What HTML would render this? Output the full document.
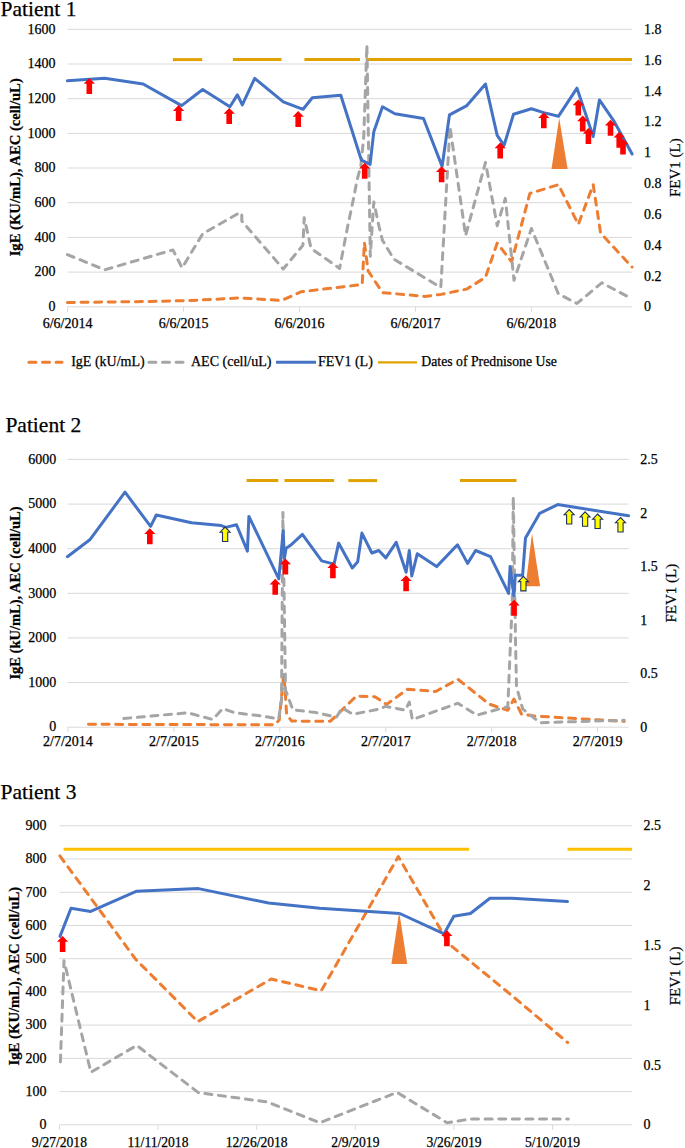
<!DOCTYPE html>
<html><head><meta charset="utf-8"><title>Patients</title>
<style>
html,body{margin:0;padding:0;background:#fff;}
body{width:685px;height:1148px;overflow:hidden;}
svg{display:block;font-family:'Liberation Serif', serif;}
svg text{fill:#000;stroke:#000;stroke-width:0.25px;}
</style></head>
<body>
<svg width="685" height="1148" viewBox="0 0 685 1148">
<rect width="685" height="1148" fill="#fff"/>
<line x1="67.5" y1="306.8" x2="632.0" y2="306.8" stroke="#D9D9D9" stroke-width="1"/>
<line x1="67.5" y1="272.1" x2="632.0" y2="272.1" stroke="#D9D9D9" stroke-width="1"/>
<line x1="67.5" y1="237.4" x2="632.0" y2="237.4" stroke="#D9D9D9" stroke-width="1"/>
<line x1="67.5" y1="202.7" x2="632.0" y2="202.7" stroke="#D9D9D9" stroke-width="1"/>
<line x1="67.5" y1="168.0" x2="632.0" y2="168.0" stroke="#D9D9D9" stroke-width="1"/>
<line x1="67.5" y1="133.4" x2="632.0" y2="133.4" stroke="#D9D9D9" stroke-width="1"/>
<line x1="67.5" y1="98.7" x2="632.0" y2="98.7" stroke="#D9D9D9" stroke-width="1"/>
<line x1="67.5" y1="64.0" x2="632.0" y2="64.0" stroke="#D9D9D9" stroke-width="1"/>
<line x1="67.5" y1="29.3" x2="632.0" y2="29.3" stroke="#D9D9D9" stroke-width="1"/>
<line x1="67.6" y1="306.8" x2="67.6" y2="311.8" stroke="#D9D9D9" stroke-width="1"/>
<line x1="183.6" y1="306.8" x2="183.6" y2="311.8" stroke="#D9D9D9" stroke-width="1"/>
<line x1="299.5" y1="306.8" x2="299.5" y2="311.8" stroke="#D9D9D9" stroke-width="1"/>
<line x1="415.5" y1="306.8" x2="415.5" y2="311.8" stroke="#D9D9D9" stroke-width="1"/>
<line x1="531.4" y1="306.8" x2="531.4" y2="311.8" stroke="#D9D9D9" stroke-width="1"/>
<text x="0.6" y="16.4" font-size="21.5" text-anchor="start" font-weight="normal" stroke-width="0.1">Patient 1</text>
<text x="55.5" y="311.0" font-size="14" text-anchor="end" font-weight="normal" >0</text>
<text x="55.5" y="276.3" font-size="14" text-anchor="end" font-weight="normal" >200</text>
<text x="55.5" y="241.6" font-size="14" text-anchor="end" font-weight="normal" >400</text>
<text x="55.5" y="206.9" font-size="14" text-anchor="end" font-weight="normal" >600</text>
<text x="55.5" y="172.2" font-size="14" text-anchor="end" font-weight="normal" >800</text>
<text x="55.5" y="137.6" font-size="14" text-anchor="end" font-weight="normal" >1000</text>
<text x="55.5" y="102.9" font-size="14" text-anchor="end" font-weight="normal" >1200</text>
<text x="55.5" y="68.2" font-size="14" text-anchor="end" font-weight="normal" >1400</text>
<text x="55.5" y="33.5" font-size="14" text-anchor="end" font-weight="normal" >1600</text>
<text x="644.0" y="311.4" font-size="14" text-anchor="start" font-weight="normal" >0</text>
<text x="644.0" y="280.6" font-size="14" text-anchor="start" font-weight="normal" >0.2</text>
<text x="644.0" y="249.7" font-size="14" text-anchor="start" font-weight="normal" >0.4</text>
<text x="644.0" y="218.9" font-size="14" text-anchor="start" font-weight="normal" >0.6</text>
<text x="644.0" y="188.1" font-size="14" text-anchor="start" font-weight="normal" >0.8</text>
<text x="644.0" y="157.2" font-size="14" text-anchor="start" font-weight="normal" >1</text>
<text x="644.0" y="126.4" font-size="14" text-anchor="start" font-weight="normal" >1.2</text>
<text x="644.0" y="95.6" font-size="14" text-anchor="start" font-weight="normal" >1.4</text>
<text x="644.0" y="64.7" font-size="14" text-anchor="start" font-weight="normal" >1.6</text>
<text x="644.0" y="33.9" font-size="14" text-anchor="start" font-weight="normal" >1.8</text>
<text x="67.6" y="327.8" font-size="14" text-anchor="middle" font-weight="normal" >6/6/2014</text>
<text x="183.6" y="327.8" font-size="14" text-anchor="middle" font-weight="normal" >6/6/2015</text>
<text x="299.5" y="327.8" font-size="14" text-anchor="middle" font-weight="normal" >6/6/2016</text>
<text x="415.5" y="327.8" font-size="14" text-anchor="middle" font-weight="normal" >6/6/2017</text>
<text x="531.4" y="327.8" font-size="14" text-anchor="middle" font-weight="normal" >6/6/2018</text>
<text x="0" y="0" font-size="14.65" text-anchor="middle" font-weight="bold" stroke-width="0" transform="translate(19.6,167.3) rotate(-90)">IgE (KU/mL), AEC (cell/uL)</text>
<text x="0" y="0" font-size="15" text-anchor="middle" font-weight="normal" transform="translate(680.0,167.7) rotate(-90)">FEV1 (L)</text>
<line x1="172.9" y1="59.6" x2="202.2" y2="59.6" stroke="#E0A200" stroke-width="3"/>
<line x1="232.9" y1="59.6" x2="281.5" y2="59.6" stroke="#E0A200" stroke-width="3"/>
<line x1="304.4" y1="59.6" x2="360.0" y2="59.6" stroke="#E0A200" stroke-width="3"/>
<line x1="365.8" y1="59.6" x2="632.0" y2="59.6" stroke="#E0A200" stroke-width="3"/>
<polyline points="67.4,302.5 150.0,301.5 191.7,300.5 239.9,297.9 281.7,300.5 300.9,291.8 362.2,284.5 364.4,242.6 368.1,270.9 382.6,292.6 424.7,296.4 440.8,294.4 466.9,289.0 485.5,277.3 497.2,243.1 511.6,261.7 529.9,193.4 558.4,184.7 578.3,224.4 593.2,184.7 600.6,233.1 632.1,267.1" fill="none" stroke="#ED7D31" stroke-width="3" stroke-linejoin="round" stroke-linecap="round" stroke-dasharray="7 6.6"/>
<polyline points="67.4,254.6 104.7,269.8 172.9,249.9 182.1,267.8 202.7,233.8 238.9,213.1 241.8,213.1 241.8,221.0 283.2,269.0 302.9,245.3 304.2,217.7 308.8,238.1 310.8,247.3 314.1,250.6 339.6,268.4 347.5,227.3 353.2,200.1 357.1,180.0 360.9,165.3 363.7,137.5 365.2,95.5 366.9,45.0 368.6,150.0 369.4,201.9 370.3,256.2 372.0,229.0 373.8,201.9 379.0,226.4 382.5,240.4 390.0,252.7 394.0,259.2 440.8,287.5 450.0,126.7 465.6,235.6 485.5,162.4 497.2,225.7 505.3,198.4 514.0,280.3 531.4,228.5 558.4,293.9 577.0,303.4 601.8,282.8 632.1,298.9" fill="none" stroke="#A5A5A5" stroke-width="3" stroke-linejoin="round" stroke-linecap="round" stroke-dasharray="7 6.6"/>
<polyline points="67.4,80.8 104.7,78.3 143.1,84.0 181.6,105.6 202.7,89.5 229.9,106.8 237.4,94.9 242.3,104.9 254.7,78.3 283.3,101.9 303.1,109.3 312.3,97.7 340.8,95.2 361.4,160.2 370.1,164.4 373.8,131.7 382.5,106.8 394.9,113.8 423.5,118.5 442.1,166.4 449.5,114.8 466.9,105.6 485.5,84.0 497.2,135.4 504.1,145.3 513.5,114.3 531.4,108.8 543.8,112.6 558.4,116.3 577.0,88.2 593.2,136.6 599.4,99.9 614.3,121.7 632.1,154.0" fill="none" stroke="#4472C4" stroke-width="3" stroke-linejoin="round" stroke-linecap="round"/>
<polygon points="559.2,118.0 567.6,168.9 551.5,168.9" fill="#ED7D31"/>
<polygon points="89.3,77.9 94.9,83.7 92.1,83.7 92.1,93.9 86.5,93.9 86.5,83.7 83.7,83.7" fill="#FF0000"/>
<polygon points="178.6,105.1 184.2,110.9 181.4,110.9 181.4,121.1 175.8,121.1 175.8,110.9 173.0,110.9" fill="#FF0000"/>
<polygon points="229.2,108.0 234.8,113.8 232.0,113.8 232.0,124.0 226.4,124.0 226.4,113.8 223.6,113.8" fill="#FF0000"/>
<polygon points="298.2,111.0 303.8,116.8 301.0,116.8 301.0,127.0 295.4,127.0 295.4,116.8 292.6,116.8" fill="#FF0000"/>
<polygon points="364.7,162.7 370.3,168.5 367.5,168.5 367.5,178.7 361.9,178.7 361.9,168.5 359.1,168.5" fill="#FF0000"/>
<polygon points="441.6,166.3 447.2,172.1 444.4,172.1 444.4,182.3 438.8,182.3 438.8,172.1 436.0,172.1" fill="#FF0000"/>
<polygon points="500.2,142.5 505.8,148.3 503.0,148.3 503.0,158.5 497.4,158.5 497.4,148.3 494.6,148.3" fill="#FF0000"/>
<polygon points="543.8,112.3 549.4,118.1 546.6,118.1 546.6,128.3 541.0,128.3 541.0,118.1 538.2,118.1" fill="#FF0000"/>
<polygon points="578.3,99.4 583.9,105.2 581.1,105.2 581.1,115.4 575.5,115.4 575.5,105.2 572.7,105.2" fill="#FF0000"/>
<polygon points="582.7,115.5 588.3,121.3 585.5,121.3 585.5,131.5 579.9,131.5 579.9,121.3 577.1,121.3" fill="#FF0000"/>
<polygon points="588.4,128.0 594.0,133.8 591.2,133.8 591.2,144.0 585.6,144.0 585.6,133.8 582.8,133.8" fill="#FF0000"/>
<polygon points="610.5,119.8 616.1,125.6 613.3,125.6 613.3,135.8 607.7,135.8 607.7,125.6 604.9,125.6" fill="#FF0000"/>
<polygon points="619.2,131.7 624.8,137.5 622.0,137.5 622.0,147.7 616.4,147.7 616.4,137.5 613.6,137.5" fill="#FF0000"/>
<polygon points="623.0,138.6 628.6,144.4 625.8,144.4 625.8,154.6 620.2,154.6 620.2,144.4 617.4,144.4" fill="#FF0000"/>
<line x1="28.9" y1="362.3" x2="62" y2="362.3" stroke="#ED7D31" stroke-width="3" stroke-dasharray="7 6.6" stroke-linecap="round"/>
<text x="71.2" y="366.2" font-size="14" text-anchor="start" font-weight="normal" >IgE (kU/mL)</text>
<line x1="148.9" y1="362.3" x2="183" y2="362.3" stroke="#A5A5A5" stroke-width="3" stroke-dasharray="7 6.6" stroke-linecap="round"/>
<text x="191.0" y="366.2" font-size="14" text-anchor="start" font-weight="normal" >AEC (cell/uL)</text>
<line x1="276" y1="362.3" x2="316" y2="362.3" stroke="#4472C4" stroke-width="3"/>
<text x="318.0" y="366.2" font-size="14" text-anchor="start" font-weight="normal" >FEV1 (L)</text>
<line x1="378" y1="362.3" x2="417" y2="362.3" stroke="#E0A200" stroke-width="2.2"/>
<text x="421.3" y="366.2" font-size="13.75" text-anchor="start" font-weight="normal" >Dates of Prednisone Use</text>
<line x1="67.5" y1="727.2" x2="628.6" y2="727.2" stroke="#D9D9D9" stroke-width="1"/>
<line x1="67.5" y1="682.6" x2="628.6" y2="682.6" stroke="#D9D9D9" stroke-width="1"/>
<line x1="67.5" y1="637.9" x2="628.6" y2="637.9" stroke="#D9D9D9" stroke-width="1"/>
<line x1="67.5" y1="593.3" x2="628.6" y2="593.3" stroke="#D9D9D9" stroke-width="1"/>
<line x1="67.5" y1="548.7" x2="628.6" y2="548.7" stroke="#D9D9D9" stroke-width="1"/>
<line x1="67.5" y1="504.1" x2="628.6" y2="504.1" stroke="#D9D9D9" stroke-width="1"/>
<line x1="67.5" y1="459.4" x2="628.6" y2="459.4" stroke="#D9D9D9" stroke-width="1"/>
<line x1="67.9" y1="727.2" x2="67.9" y2="732.2" stroke="#D9D9D9" stroke-width="1"/>
<line x1="173.9" y1="727.2" x2="173.9" y2="732.2" stroke="#D9D9D9" stroke-width="1"/>
<line x1="279.8" y1="727.2" x2="279.8" y2="732.2" stroke="#D9D9D9" stroke-width="1"/>
<line x1="385.8" y1="727.2" x2="385.8" y2="732.2" stroke="#D9D9D9" stroke-width="1"/>
<line x1="491.7" y1="727.2" x2="491.7" y2="732.2" stroke="#D9D9D9" stroke-width="1"/>
<line x1="597.6" y1="727.2" x2="597.6" y2="732.2" stroke="#D9D9D9" stroke-width="1"/>
<text x="5.4" y="432.1" font-size="21.5" text-anchor="start" font-weight="normal" stroke-width="0.1">Patient 2</text>
<text x="56.2" y="731.4" font-size="14" text-anchor="end" font-weight="normal" >0</text>
<text x="56.2" y="686.8" font-size="14" text-anchor="end" font-weight="normal" >1000</text>
<text x="56.2" y="642.1" font-size="14" text-anchor="end" font-weight="normal" >2000</text>
<text x="56.2" y="597.5" font-size="14" text-anchor="end" font-weight="normal" >3000</text>
<text x="56.2" y="552.9" font-size="14" text-anchor="end" font-weight="normal" >4000</text>
<text x="56.2" y="508.3" font-size="14" text-anchor="end" font-weight="normal" >5000</text>
<text x="56.2" y="463.6" font-size="14" text-anchor="end" font-weight="normal" >6000</text>
<text x="640.3" y="731.7" font-size="14" text-anchor="start" font-weight="normal" >0</text>
<text x="640.3" y="678.1" font-size="14" text-anchor="start" font-weight="normal" >0.5</text>
<text x="640.3" y="624.6" font-size="14" text-anchor="start" font-weight="normal" >1</text>
<text x="640.3" y="571.0" font-size="14" text-anchor="start" font-weight="normal" >1.5</text>
<text x="640.3" y="517.5" font-size="14" text-anchor="start" font-weight="normal" >2</text>
<text x="640.3" y="463.9" font-size="14" text-anchor="start" font-weight="normal" >2.5</text>
<text x="67.9" y="746.0" font-size="14" text-anchor="middle" font-weight="normal" >2/7/2014</text>
<text x="173.9" y="746.0" font-size="14" text-anchor="middle" font-weight="normal" >2/7/2015</text>
<text x="279.8" y="746.0" font-size="14" text-anchor="middle" font-weight="normal" >2/7/2016</text>
<text x="385.8" y="746.0" font-size="14" text-anchor="middle" font-weight="normal" >2/7/2017</text>
<text x="491.7" y="746.0" font-size="14" text-anchor="middle" font-weight="normal" >2/7/2018</text>
<text x="597.6" y="746.0" font-size="14" text-anchor="middle" font-weight="normal" >2/7/2019</text>
<text x="0" y="0" font-size="14.5" text-anchor="middle" font-weight="bold" stroke-width="0" transform="translate(20.2,593.0) rotate(-90)">IgE (kU/mL), AEC (cell/uL)</text>
<text x="0" y="0" font-size="15" text-anchor="middle" font-weight="normal" transform="translate(675.8,593.2) rotate(-90)">FEV1 (L)</text>
<line x1="246.6" y1="480.6" x2="278.3" y2="480.6" stroke="#E0A200" stroke-width="3"/>
<line x1="284.5" y1="480.6" x2="334.1" y2="480.6" stroke="#E0A200" stroke-width="3"/>
<line x1="348.3" y1="480.6" x2="377.1" y2="480.6" stroke="#E0A200" stroke-width="3"/>
<line x1="460.0" y1="480.6" x2="516.5" y2="480.6" stroke="#E0A200" stroke-width="3"/>
<polyline points="88.5,724.3 274.7,724.8 279.2,720.0 283.8,673.6 285.5,696.2 286.6,714.3 291.7,721.1 330.5,721.2 356.2,696.2 374.9,696.7 386.6,704.4 407.6,689.2 435.7,691.5 457.9,679.2 489.2,704.1 507.8,710.3 514.0,699.1 521.5,714.0 533.9,716.0 624.2,721.4" fill="none" stroke="#ED7D31" stroke-width="3" stroke-linejoin="round" stroke-linecap="round" stroke-dasharray="7 6.6"/>
<polyline points="123.8,718.5 187.6,712.8 212.8,719.5 222.9,708.5 234.6,712.8 262.3,716.0 278.7,718.9 281.5,700.0 282.9,512.4 285.5,690.0 292.8,709.8 316.0,712.6 336.4,717.2 342.2,707.9 352.7,714.2 379.6,709.1 385.4,706.3 405.3,710.2 409.3,702.1 412.3,719.6 457.9,703.2 476.8,715.2 507.8,706.6 512.3,600.0 513.3,497.0 515.5,640.0 516.5,686.7 522.7,709.0 540.1,722.7 624.2,720.2" fill="none" stroke="#A5A5A5" stroke-width="3" stroke-linejoin="round" stroke-linecap="round" stroke-dasharray="7 6.6"/>
<polyline points="67.4,556.7 89.8,539.8 125.0,492.2 150.6,526.4 156.3,515.0 191.5,522.7 221.2,525.5 225.5,527.4 236.5,524.8 247.4,551.1 248.9,516.4 278.8,578.8 283.2,530.7 284.4,558.4 286.1,548.2 290.5,545.3 302.4,534.4 321.7,560.9 334.1,564.1 338.6,543.1 352.3,567.9 357.7,561.7 361.9,533.1 371.9,553.0 378.8,550.5 385.8,557.9 396.2,542.3 406.1,572.3 409.3,550.5 411.8,576.0 417.3,553.7 436.6,566.6 457.5,544.8 467.6,563.4 475.6,550.5 490.5,556.6 508.6,593.4 510.1,566.5 513.9,595.7 515.3,575.3 522.6,575.3 525.5,537.9 539.6,513.4 557.7,504.6 628.6,515.8" fill="none" stroke="#4472C4" stroke-width="3" stroke-linejoin="round" stroke-linecap="round"/>
<polygon points="532.0,533.5 540.1,586.2 525.6,586.2" fill="#ED7D31"/>
<polygon points="149.8,528.2 155.4,534.0 152.6,534.0 152.6,544.2 147.0,544.2 147.0,534.0 144.2,534.0" fill="#FF0000"/>
<polygon points="275.2,578.8 280.8,584.6 278.0,584.6 278.0,594.8 272.4,594.8 272.4,584.6 269.6,584.6" fill="#FF0000"/>
<polygon points="285.4,558.4 291.0,564.2 288.2,564.2 288.2,574.4 282.6,574.4 282.6,564.2 279.8,564.2" fill="#FF0000"/>
<polygon points="332.9,562.2 338.5,568.0 335.7,568.0 335.7,578.2 330.1,578.2 330.1,568.0 327.3,568.0" fill="#FF0000"/>
<polygon points="406.1,575.3 411.7,581.1 408.9,581.1 408.9,591.3 403.3,591.3 403.3,581.1 400.5,581.1" fill="#FF0000"/>
<polygon points="514.1,599.8 519.7,605.6 516.9,605.6 516.9,615.8 511.3,615.8 511.3,605.6 508.5,605.6" fill="#FF0000"/>
<polygon points="225.1,527.0 230.1,532.2 227.7,532.2 227.7,541.5 222.5,541.5 222.5,532.2 220.1,532.2" fill="#FFFF00" stroke="#1F2F60" stroke-width="1.1" stroke-linejoin="miter"/>
<polygon points="523.4,576.4 528.4,581.6 526.0,581.6 526.0,590.9 520.8,590.9 520.8,581.6 518.4,581.6" fill="#FFFF00" stroke="#1F2F60" stroke-width="1.1" stroke-linejoin="miter"/>
<polygon points="569.2,509.5 574.2,514.7 571.8,514.7 571.8,524.0 566.6,524.0 566.6,514.7 564.2,514.7" fill="#FFFF00" stroke="#1F2F60" stroke-width="1.1" stroke-linejoin="miter"/>
<polygon points="585.1,511.8 590.1,517.0 587.7,517.0 587.7,526.3 582.5,526.3 582.5,517.0 580.1,517.0" fill="#FFFF00" stroke="#1F2F60" stroke-width="1.1" stroke-linejoin="miter"/>
<polygon points="597.6,514.0 602.6,519.2 600.2,519.2 600.2,528.5 595.0,528.5 595.0,519.2 592.6,519.2" fill="#FFFF00" stroke="#1F2F60" stroke-width="1.1" stroke-linejoin="miter"/>
<polygon points="620.5,517.5 625.5,522.7 623.1,522.7 623.1,532.0 617.9,532.0 617.9,522.7 615.5,522.7" fill="#FFFF00" stroke="#1F2F60" stroke-width="1.1" stroke-linejoin="miter"/>
<line x1="59.5" y1="1124.8" x2="632.1" y2="1124.8" stroke="#D9D9D9" stroke-width="1"/>
<line x1="59.5" y1="1091.6" x2="632.1" y2="1091.6" stroke="#D9D9D9" stroke-width="1"/>
<line x1="59.5" y1="1058.4" x2="632.1" y2="1058.4" stroke="#D9D9D9" stroke-width="1"/>
<line x1="59.5" y1="1025.1" x2="632.1" y2="1025.1" stroke="#D9D9D9" stroke-width="1"/>
<line x1="59.5" y1="991.9" x2="632.1" y2="991.9" stroke="#D9D9D9" stroke-width="1"/>
<line x1="59.5" y1="958.7" x2="632.1" y2="958.7" stroke="#D9D9D9" stroke-width="1"/>
<line x1="59.5" y1="925.5" x2="632.1" y2="925.5" stroke="#D9D9D9" stroke-width="1"/>
<line x1="59.5" y1="892.3" x2="632.1" y2="892.3" stroke="#D9D9D9" stroke-width="1"/>
<line x1="59.5" y1="859.0" x2="632.1" y2="859.0" stroke="#D9D9D9" stroke-width="1"/>
<line x1="59.5" y1="825.8" x2="632.1" y2="825.8" stroke="#D9D9D9" stroke-width="1"/>
<line x1="59.4" y1="1124.8" x2="59.4" y2="1129.8" stroke="#D9D9D9" stroke-width="1"/>
<line x1="158.0" y1="1124.8" x2="158.0" y2="1129.8" stroke="#D9D9D9" stroke-width="1"/>
<line x1="256.7" y1="1124.8" x2="256.7" y2="1129.8" stroke="#D9D9D9" stroke-width="1"/>
<line x1="355.3" y1="1124.8" x2="355.3" y2="1129.8" stroke="#D9D9D9" stroke-width="1"/>
<line x1="454.0" y1="1124.8" x2="454.0" y2="1129.8" stroke="#D9D9D9" stroke-width="1"/>
<line x1="552.6" y1="1124.8" x2="552.6" y2="1129.8" stroke="#D9D9D9" stroke-width="1"/>
<text x="0.6" y="799.3" font-size="21.5" text-anchor="start" font-weight="normal" stroke-width="0.1">Patient 3</text>
<text x="46.4" y="1129.0" font-size="14" text-anchor="end" font-weight="normal" >0</text>
<text x="46.4" y="1095.8" font-size="14" text-anchor="end" font-weight="normal" >100</text>
<text x="46.4" y="1062.6" font-size="14" text-anchor="end" font-weight="normal" >200</text>
<text x="46.4" y="1029.3" font-size="14" text-anchor="end" font-weight="normal" >300</text>
<text x="46.4" y="996.1" font-size="14" text-anchor="end" font-weight="normal" >400</text>
<text x="46.4" y="962.9" font-size="14" text-anchor="end" font-weight="normal" >500</text>
<text x="46.4" y="929.7" font-size="14" text-anchor="end" font-weight="normal" >600</text>
<text x="46.4" y="896.5" font-size="14" text-anchor="end" font-weight="normal" >700</text>
<text x="46.4" y="863.2" font-size="14" text-anchor="end" font-weight="normal" >800</text>
<text x="46.4" y="830.0" font-size="14" text-anchor="end" font-weight="normal" >900</text>
<text x="643.5" y="1129.3" font-size="14" text-anchor="start" font-weight="normal" >0</text>
<text x="643.5" y="1069.5" font-size="14" text-anchor="start" font-weight="normal" >0.5</text>
<text x="643.5" y="1009.7" font-size="14" text-anchor="start" font-weight="normal" >1</text>
<text x="643.5" y="949.9" font-size="14" text-anchor="start" font-weight="normal" >1.5</text>
<text x="643.5" y="890.1" font-size="14" text-anchor="start" font-weight="normal" >2</text>
<text x="643.5" y="830.3" font-size="14" text-anchor="start" font-weight="normal" >2.5</text>
<text x="59.4" y="1146.6" font-size="13.6" text-anchor="middle" font-weight="normal" >9/27/2018</text>
<text x="158.0" y="1146.6" font-size="13.6" text-anchor="middle" font-weight="normal" >11/11/2018</text>
<text x="256.7" y="1146.6" font-size="13.6" text-anchor="middle" font-weight="normal" >12/26/2018</text>
<text x="355.3" y="1146.6" font-size="13.6" text-anchor="middle" font-weight="normal" >2/9/2019</text>
<text x="454.0" y="1146.6" font-size="13.6" text-anchor="middle" font-weight="normal" >3/26/2019</text>
<text x="552.6" y="1146.6" font-size="13.6" text-anchor="middle" font-weight="normal" >5/10/2019</text>
<text x="0" y="0" font-size="14.7" text-anchor="middle" font-weight="bold" stroke-width="0" transform="translate(18.6,976.1) rotate(-90)">IgE (KU/mL), AEC (cell/uL)</text>
<text x="0" y="0" font-size="15" text-anchor="middle" font-weight="normal" transform="translate(679.7,975.9) rotate(-90)">FEV1 (L)</text>
<line x1="63.6" y1="849.3" x2="469.2" y2="849.3" stroke="#FFC000" stroke-width="3"/>
<line x1="567.5" y1="849.3" x2="632.1" y2="849.3" stroke="#FFC000" stroke-width="3"/>
<polyline points="59.9,855.9 135.6,959.2 197.8,1021.6 271.2,979.0 321.2,990.8 398.3,856.6 449.0,944.0 509.5,993.6 567.7,1042.6" fill="none" stroke="#ED7D31" stroke-width="3" stroke-linejoin="round" stroke-linecap="round" stroke-dasharray="7 6.6"/>
<polyline points="60.4,1062.0 64.0,960.7 90.9,1072.3 136.7,1045.4 198.5,1092.7 267.3,1101.9 319.8,1122.7 397.1,1092.4 447.0,1122.7 470.6,1119.0 568.3,1118.9" fill="none" stroke="#A5A5A5" stroke-width="3" stroke-linejoin="round" stroke-linecap="round" stroke-dasharray="7 6.6"/>
<polyline points="60.0,936.4 71.0,908.3 90.7,911.4 136.7,891.2 198.5,888.6 268.6,903.0 319.8,908.3 399.7,913.5 444.1,933.8 453.8,916.3 470.4,913.5 489.9,898.3 512.0,898.3 567.5,901.6" fill="none" stroke="#4472C4" stroke-width="3" stroke-linejoin="round" stroke-linecap="round"/>
<polygon points="399.2,912.1 407.2,964.0 391.4,964.0" fill="#ED7D31"/>
<polygon points="62.6,935.9 68.2,941.7 65.4,941.7 65.4,951.9 59.8,951.9 59.8,941.7 57.0,941.7" fill="#FF0000"/>
<polygon points="446.9,930.2 452.5,936.0 449.7,936.0 449.7,946.2 444.1,946.2 444.1,936.0 441.3,936.0" fill="#FF0000"/>
</svg>
</body></html>
